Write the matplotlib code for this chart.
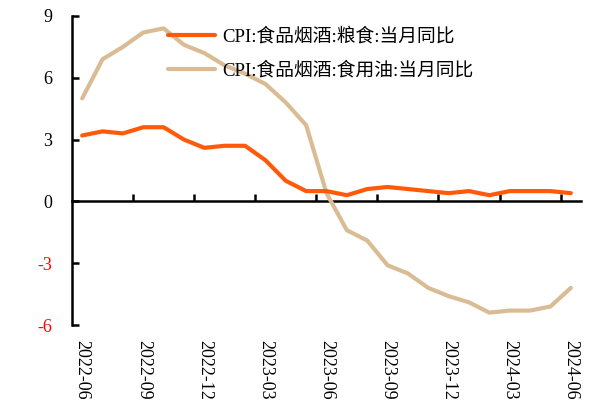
import matplotlib
matplotlib.use("Agg")
import matplotlib.pyplot as plt

months = ["2022-06", "2022-07", "2022-08", "2022-09", "2022-10", "2022-11", "2022-12",
          "2023-01", "2023-02", "2023-03", "2023-04", "2023-05", "2023-06", "2023-07",
          "2023-08", "2023-09", "2023-10", "2023-11", "2023-12", "2024-01", "2024-02",
          "2024-03", "2024-04", "2024-05", "2024-06"]
grain = [3.2, 3.4, 3.3, 3.6, 3.6, 3.0, 2.6, 2.7, 2.7, 2.0, 1.0, 0.5, 0.5, 0.3,
         0.6, 0.7, 0.6, 0.5, 0.4, 0.5, 0.3, 0.5, 0.5, 0.5, 0.4]
oil = [5.0, 6.9, 7.5, 8.2, 8.4, 7.6, 7.2, 6.6, 6.2, 5.7, 4.8, 3.7, 0.4, -1.4,
       -1.9, -3.1, -3.5, -4.2, -4.6, -4.9, -5.4, -5.3, -5.3, -5.1, -4.2]
yticks = [-6, -3, 0, 3, 6, 9]
label_grain = "CPI:食品烟酒:粮食:当月同比"
label_oil = "CPI:食品烟酒:食用油:当月同比"

plt.rcParams['font.family'] = ['Liberation Serif', 'Noto Sans CJK SC', 'DejaVu Sans']

fig = plt.figure(figsize=(5.99, 4.01), dpi=100)
W, H = 599, 401
ax = fig.add_axes([72 / W, 1 - 325 / H, (581 - 72) / W, (325 - 16) / H])

x = list(range(len(months)))
ax.plot(x, grain, color="#FF5A0A", lw=3.0, solid_joinstyle="round", solid_capstyle="round",
        label=label_grain, zorder=3)
ax.plot(x, oil, color="#D9BC94", lw=3.0, solid_joinstyle="round", solid_capstyle="round",
        label=label_oil, zorder=2)

ax.set_xlim(-0.5, len(months) - 0.5)
ax.set_ylim(-6, 9)

for s in ["top", "right", "bottom"]:
    ax.spines[s].set_visible(False)
ax.spines["left"].set_linewidth(1.8)

ax.set_yticks(yticks)
ax.set_yticklabels([str(v) for v in yticks], fontsize=13)
for lab, v in zip(ax.get_yticklabels(), yticks):
    lab.set_color("#FF0000" if v < 0 else "black")
ax.tick_params(axis="y", direction="in", length=5, width=1.8, pad=14)

ax.set_xticks(x[::3])
ax.set_xticklabels(months[::3], rotation=-90, fontsize=13, va="top", ha="center")
ax.tick_params(axis="x", length=0, pad=11)

sec = ax.secondary_xaxis(0.4)
sec.spines["bottom"].set_linewidth(1.8)
sec.set_xticks([i + 2.5 for i in range(0, len(months) - 1, 3)])
sec.set_xticklabels([])
sec.tick_params(axis="x", direction="in", length=5, width=1.8)

leg = ax.legend(loc="upper left", bbox_to_anchor=(168 / W, 1 - 28 / H),
                bbox_transform=fig.transFigure, frameon=False, fontsize=13.5,
                handlelength=2.5, handletextpad=0.4, labelspacing=0.85,
                borderpad=0, borderaxespad=0)

fig.savefig("out.png", dpi=100)
